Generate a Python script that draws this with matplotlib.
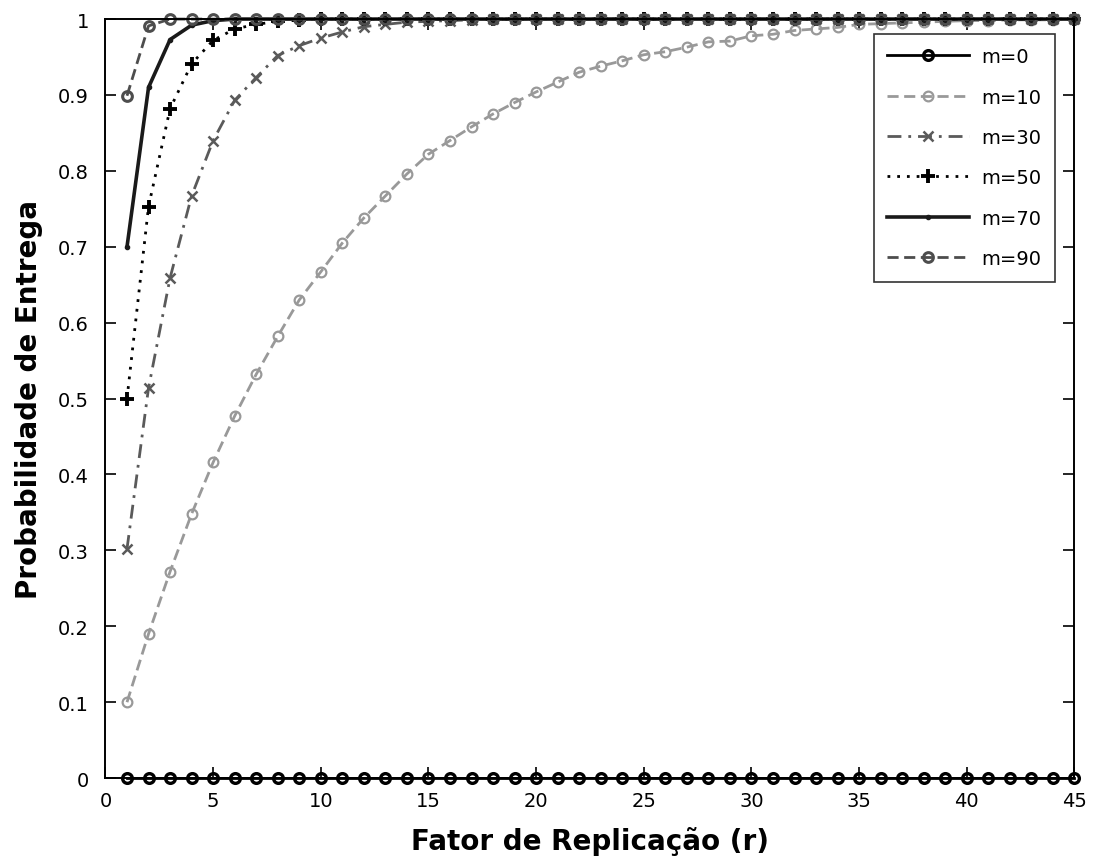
import matplotlib
matplotlib.use('Agg')
import matplotlib.pyplot as plt
import numpy as np

# replication factor r
r = list(range(1, 46))

# delivery probability per m
m0 = [0.0] * 45
m10 = [0.100, 0.190, 0.272, 0.348, 0.416, 0.477, 0.532, 0.582, 0.630, 0.667,
       0.705, 0.738, 0.767, 0.796, 0.822, 0.840, 0.858, 0.875, 0.890, 0.904,
       0.917, 0.930, 0.938, 0.945, 0.953, 0.957, 0.963, 0.970, 0.971, 0.978,
       0.980, 0.985, 0.987, 0.989, 0.993, 0.994, 0.995, 0.996, 0.997, 0.998,
       0.998, 0.999, 0.999, 0.999, 1.000]
m30 = [0.302, 0.514, 0.659, 0.767, 0.840, 0.893, 0.923, 0.952, 0.965, 0.975,
       0.983, 0.990, 0.993, 0.996, 0.997, 0.998, 0.999] + [1.0] * 28
m50 = [0.500, 0.753, 0.882, 0.941, 0.972, 0.987, 0.993, 0.997, 0.999] + [1.0] * 36
m70 = [0.700, 0.910, 0.973, 0.992, 0.998] + [1.0] * 40
m90 = [0.899, 0.991] + [1.0] * 43

labels = ['m=0', 'm=10', 'm=30', 'm=50', 'm=70', 'm=90']

plt.rcParams['font.family'] = ['DejaVu Sans']

fig = plt.figure(figsize=(10.93, 8.62), dpi=100)
ax = fig.add_axes([0.0965, 0.0962, 0.8865, 0.8805])

ax.plot(r, m0, color='black', linestyle='-', linewidth=2.0, marker='o',
        markersize=7, markeredgewidth=2.4, markerfacecolor='none',
        clip_on=False, label=labels[0])
ax.plot(r, m10, color='#999999', linestyle='--', dashes=(4, 2), linewidth=2.0,
        marker='o', markersize=7, markeredgewidth=1.6, markerfacecolor='none',
        clip_on=False, label=labels[1])
ax.plot(r, m30, color='#5a5a5a', linestyle='-.', dashes=(5, 2.5, 1, 2.5),
        linewidth=2.0, marker='x', markersize=7, markeredgewidth=1.8,
        clip_on=False, label=labels[2])
ax.plot(r, m50, color='black', linestyle=':', dashes=(1, 2.5), linewidth=2.0,
        marker='+', markersize=10, markeredgewidth=2.8,
        clip_on=False, label=labels[3])
ax.plot(r, m70, color='#1a1a1a', linestyle='-', linewidth=2.6, marker='.',
        markersize=6, clip_on=False, label=labels[4])
ax.plot(r, m90, color='#4d4d4d', linestyle='--', dashes=(4, 2), linewidth=2.0,
        marker='o', markersize=7, markeredgewidth=2.2, markerfacecolor='none',
        clip_on=False, label=labels[5])

ax.set_xlim(0, 45)
ax.set_ylim(0, 1)
ax.set_xticks(range(0, 46, 5))
ax.set_yticks(np.arange(0, 1.01, 0.1))
ax.set_yticklabels(['0', '0.1', '0.2', '0.3', '0.4', '0.5', '0.6', '0.7',
                    '0.8', '0.9', '1'])
ax.tick_params(direction='in', length=8, width=1.2, labelsize=14,
               top=True, right=True)
ax.tick_params(axis='y', pad=12)
ax.tick_params(axis='x', pad=9)
for s in ax.spines.values():
    s.set_linewidth(1.4)

ax.set_xlabel('Fator de Replicação (r)', fontsize=20, fontweight='bold',
              labelpad=12)
ax.set_ylabel('Probabilidade de Entrega', fontsize=20, fontweight='bold',
              labelpad=11)

leg = ax.legend(loc='upper right', bbox_to_anchor=(0.9795, 0.981),
                fontsize=14, frameon=True, fancybox=False, handlelength=4.2,
                handletextpad=0.6, labelspacing=1.1, borderpad=0.7,
                borderaxespad=0)
leg.get_frame().set_edgecolor('black')
leg.get_frame().set_linewidth(1.2)

fig.savefig('out.png', dpi=100)
